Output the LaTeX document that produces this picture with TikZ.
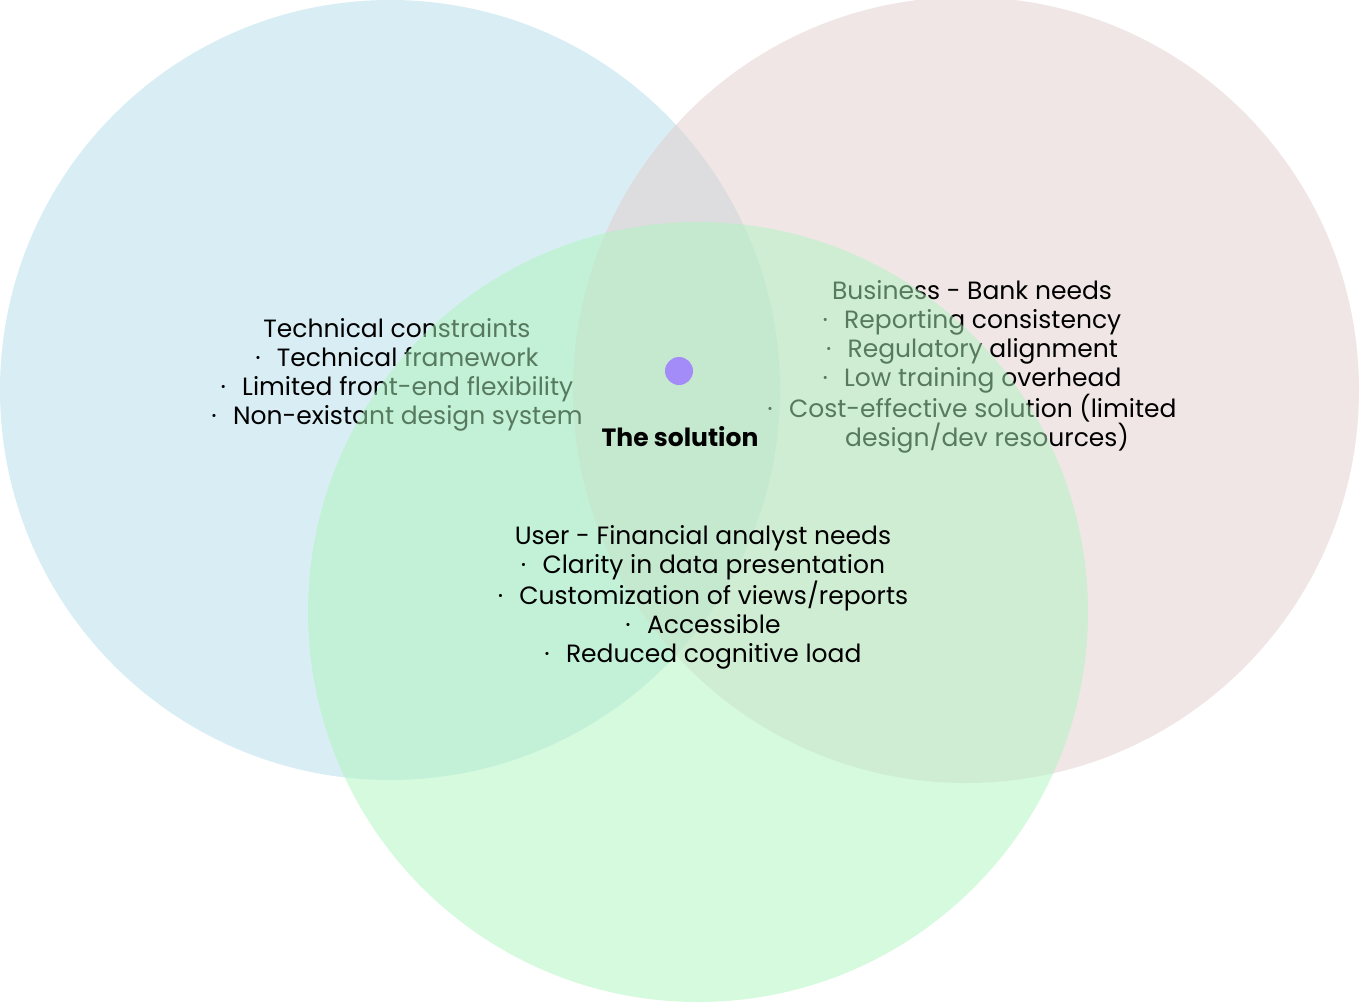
\documentclass[tikz,border=0pt]{standalone}
\usepackage{fontspec}
\setmainfont{Poppins}
\usetikzlibrary{positioning}
\definecolor{vennblue}{HTML}{D9EEF4}
\definecolor{vennpink}{HTML}{E1CDCD}
\definecolor{venngreen}{HTML}{AEF5BE}
\definecolor{vennpurple}{HTML}{A48CF8}
\newcommand{\vbul}{\textperiodcentered\hspace{0.65em}}

\begin{document}
\begin{tikzpicture}[x=1pt,y=-1pt,
  set/.style={circle,minimum size=780pt,inner sep=0pt},
  list/.style={align=center,font=\fontsize{25}{29}\selectfont,text=black,inner sep=0pt}
]
\useasboundingbox (0,0) rectangle (1360,1002);
\node[set,fill=vennblue] (tech) at (390,390) {};
\node[set,minimum size=786pt,fill=vennpink,fill opacity=0.5] (bank) at (966,390) {};

\node[list] (techtext) at (397,375) {Technical constraints\\ \vbul Technical framework\\ \vbul Limited front-end flexibility\\ \vbul Non-existant design system};
\node[list] (banktext) at (972,367) {Business - Bank needs\\ \vbul Reporting consistency\\ \vbul Regulatory alignment\\ \vbul Low training overhead\\ \vbul Cost-effective solution (limited\\ \hspace{1.2em}design/dev resources)};

\node[set,fill=venngreen,fill opacity=0.5] (user) at (698,612) {};
\node[list] (usertext) at (703,597) {User - Financial analyst needs\\ \vbul Clarity in data presentation\\ \vbul Customization of views/reports\\ \vbul Accessible\\ \vbul Reduced cognitive load};

\node[circle,fill=vennpurple,minimum size=28pt,inner sep=0pt] (dot) at (679,371) {};
\node[list,font=\fontsize{25}{29}\selectfont\bfseries] (solution) at (680,437) {The solution};
\end{tikzpicture}
\end{document}
